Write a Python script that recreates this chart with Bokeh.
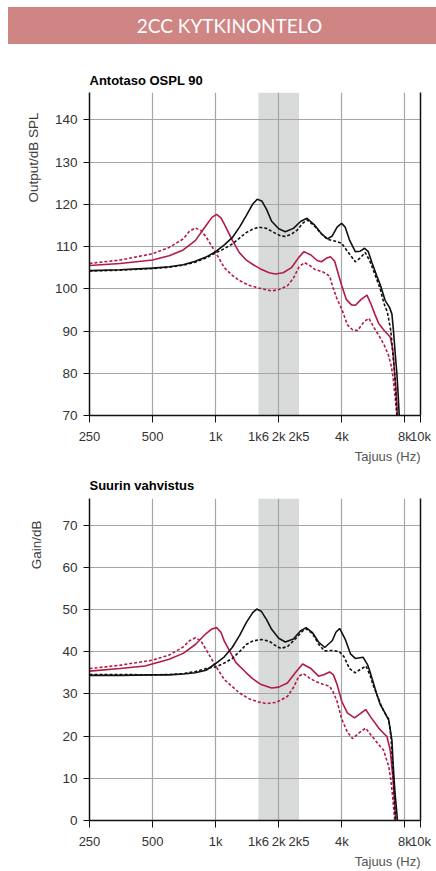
import math
from bokeh.plotting import figure
from bokeh.models import FixedTicker, LinearAxis, BoxAnnotation, Title, Div
from bokeh.layouts import column
from bokeh.embed import file_html
from bokeh.resources import INLINE

# ---------------- data ----------------
BANNER_TEXT = "2CC KYTKINONTELO"
TITLE_TOP = "Antotaso OSPL 90"
TITLE_BOTTOM = "Suurin vahvistus"
YLABEL_TOP = "Output/dB SPL"
YLABEL_BOTTOM = "Gain/dB"
XLABEL = "Tajuus (Hz)"

X_START, X_END = 250, 9500
X_LABEL_TICKS = [250, 500, 1000, 1600, 2000, 2500, 4000, 8000, 9500]
X_LABELS = ["250", "500", "1k", "1k6", "2k", "2k5", "4k", "8k", "10k"]
X_GRID_TICKS = [250, 500, 1000, 2000, 4000, 8000, 9500]
BAND = [1600, 2500]

Y_TICKS_TOP = [70, 80, 90, 100, 110, 120, 130, 140]
Y_TICKS_BOTTOM = [0, 10, 20, 30, 40, 50, 60, 70]

# Output (OSPL 90)
OSPL_BLACK_SOLID_F = [250, 350, 500, 600, 700, 800, 900, 1000, 1100, 1200, 1300, 1400, 1500, 1580, 1660, 1750,
                      1850, 2000, 2150, 2350, 2550, 2730, 2950, 3200, 3420, 3600, 3800, 3990, 4150, 4350, 4640,
                      4900, 5140, 5350, 5570, 5880, 6100, 6445, 6757, 6940, 7060, 7200, 7326, 7430, 7520]
OSPL_BLACK_SOLID = [104.3, 104.5, 104.9, 105.2, 105.7, 106.5, 107.5, 108.8, 110.4, 112.1, 114.6, 117.3, 120.0,
                    121.2, 120.8, 118.8, 116.0, 114.2, 113.5, 114.3, 116.0, 116.7, 115.2, 113.0, 111.8, 112.5,
                    114.6, 115.5, 114.6, 111.6, 108.8, 108.9, 109.6, 108.8, 106.2, 103.0, 101.0, 97.2, 95.6,
                    94.0, 90.0, 84.5, 80.0, 75.0, 70.0]
OSPL_BLACK_DASH_F = [250, 350, 500, 600, 700, 800, 900, 1000, 1100, 1200, 1300, 1400, 1500, 1610, 1750, 1900,
                     2050, 2150, 2300, 2450, 2600, 2730, 2950, 3200, 3420, 3700, 3990, 4240, 4640, 4900, 5170,
                     5440, 5700, 6100, 6360, 6600, 6860, 7000, 7150, 7250, 7330]
OSPL_BLACK_DASH = [104.2, 104.4, 104.8, 105.1, 105.6, 106.3, 107.3, 108.5, 109.5, 110.6, 112.0, 113.3, 114.1,
                   114.6, 114.3, 113.3, 112.5, 112.4, 112.9, 113.9, 115.5, 116.3, 115.0, 113.0, 111.7, 111.3,
                   110.8, 109.0, 106.4, 107.3, 108.6, 106.6, 104.0, 100.0, 96.5, 94.5, 90.0, 85.0, 80.0, 75.0,
                   70.0]
OSPL_RED_SOLID_F = [250, 350, 500, 600, 700, 800, 900, 960, 1010, 1060, 1100, 1200, 1300, 1400, 1500, 1650,
                    1800, 1930, 2100, 2300, 2500, 2640, 2850, 3050, 3200, 3400, 3530, 3700, 3850, 4000, 4200,
                    4450, 4650, 4950, 5275, 5500, 5750, 6000, 6330, 6810, 6950, 7030, 7150, 7280, 7376]
OSPL_RED_SOLID = [105.5, 106.0, 106.8, 107.8, 109.2, 111.4, 115.0, 116.9, 117.6, 116.8, 115.3, 111.5, 108.5,
                  106.8, 105.8, 104.6, 103.8, 103.5, 103.8, 105.0, 107.5, 108.8, 108.0, 106.7, 106.4, 107.3,
                  107.6, 106.5, 103.5, 100.7, 97.5, 96.2, 96.1, 97.5, 98.5, 96.5, 94.0, 91.8, 90.3, 88.6,
                  86.5, 85.0, 80.0, 75.0, 70.0]
OSPL_RED_DOT_F = [250, 350, 500, 600, 700, 750, 800, 850, 900, 1000, 1100, 1200, 1300, 1450, 1600, 1850, 2000,
                  2200, 2350, 2500, 2650, 2800, 3000, 3250, 3500, 3620, 3800, 4000, 4250, 4500, 4760, 5100, 5390,
                  5700, 6090, 6400, 6700, 6900, 7030, 7200, 7326]
OSPL_RED_DOT = [106.0, 106.8, 108.3, 109.8, 111.8, 113.6, 114.4, 113.8, 112.3, 108.6, 105.0, 103.2, 101.9,
                100.8, 100.2, 99.5, 99.8, 100.7, 102.5, 105.2, 106.2, 105.6, 104.5, 104.0, 103.0, 100.5, 97.5,
                95.2, 91.5, 90.3, 90.1, 92.2, 93.0, 90.8, 88.5, 86.5, 84.1, 81.5, 79.0, 74.0, 70.0]

# Gain
GAIN_BLACK_SOLID_F = [250, 350, 500, 600, 700, 800, 900, 1000, 1100, 1200, 1300, 1400, 1500, 1570, 1650, 1750,
                      1850, 2000, 2150, 2350, 2550, 2700, 2900, 3100, 3315, 3600, 3750, 3906, 4150, 4400, 4640,
                      5050, 5300, 5440, 5885, 6090, 6350, 6700, 6940, 7030, 7170, 7376]
GAIN_BLACK_SOLID = [34.4, 34.4, 34.5, 34.5, 34.7, 35.0, 35.6, 37.2, 38.8, 41.0, 43.8, 46.9, 49.2, 50.1, 49.6,
                    47.6, 45.3, 43.2, 42.3, 43.0, 45.0, 45.7, 44.5, 42.3, 41.0, 42.6, 44.6, 45.5, 43.0, 39.5,
                    38.4, 38.7, 37.0, 35.4, 29.8, 27.6, 26.0, 23.8, 19.0, 13.5, 7.0, 0.0]
GAIN_BLACK_DASH_F = [250, 350, 500, 600, 700, 800, 900, 1000, 1100, 1200, 1300, 1400, 1500, 1650, 1800, 1950,
                     2050, 2200, 2400, 2600, 2700, 2900, 3100, 3300, 3600, 3900, 4100, 4350, 4640, 4900, 5220,
                     5450, 5670, 6155, 6330, 6700, 6880, 7050, 7230]
GAIN_BLACK_DASH = [34.6, 34.6, 34.5, 34.6, 34.8, 35.3, 36.0, 36.4, 37.3, 38.4, 40.0, 41.7, 42.5, 42.9, 42.5,
                   41.3, 40.8, 41.2, 43.0, 44.9, 45.4, 44.3, 41.8, 40.2, 40.3, 40.0, 38.8, 36.0, 35.0, 35.8,
                   36.6, 34.5, 31.8, 27.4, 26.0, 24.0, 19.5, 10.0, 0.0]
GAIN_RED_SOLID_F = [250, 350, 460, 600, 700, 800, 900, 960, 1010, 1060, 1100, 1250, 1400, 1500, 1650, 1850, 2000,
                    2200, 2400, 2600, 2850, 3100, 3300, 3500, 3650, 3800, 4000, 4250, 4600, 4900, 5200, 5500,
                    6000, 6350, 6570, 6810, 7030, 7230]
GAIN_RED_SOLID = [35.4, 36.0, 36.6, 38.2, 39.6, 41.7, 44.3, 45.4, 45.7, 44.6, 42.5, 37.4, 35.0, 33.6, 32.2,
                  31.4, 31.6, 32.6, 35.0, 37.1, 36.0, 34.2, 34.6, 35.2, 34.5, 32.2, 28.2, 25.5, 24.3, 25.3,
                  26.3, 24.5, 21.9, 20.6, 19.9, 16.7, 9.6, 0.0]
GAIN_RED_DOT_F = [250, 350, 500, 600, 700, 750, 800, 850, 900, 1000, 1100, 1300, 1450, 1600, 1750, 1950, 2200,
                  2350, 2500, 2620, 2800, 3000, 3250, 3500, 3650, 3800, 4000, 4250, 4500, 4850, 5200, 5500, 6000,
                  6330, 6700, 6860, 7000, 7160]
GAIN_RED_DOT = [36.0, 36.8, 38.0, 39.2, 41.1, 42.6, 43.3, 42.6, 40.5, 36.6, 33.4, 30.2, 28.8, 28.1, 27.7, 28.0,
                29.4, 31.5, 34.2, 34.8, 33.8, 32.9, 32.3, 31.8, 30.3, 28.2, 24.0, 21.0, 19.4, 20.8, 21.9, 20.3,
                18.0, 16.7, 12.8, 9.6, 5.5, 0.0]

# ---------------- style ----------------
BANNER_COLOR = "#cf8584"
RED = "#b31b45"
BLACK = "#111111"
GRID = "#a6a6a6"
BAND_COLOR = "#d9dbda"
SANS = "Liberation Sans"
TICK_COLOR = "#333333"
FIG_W = 436


def make_chart(height, border_top, frame_h, y_range, y_ticks, title, title_standoff,
               ylabel, ylabel_offset, ylabel_standoff, series):
    p = figure(width=FIG_W, height=height, x_axis_type="log",
               x_range=(X_START, X_END), y_range=y_range,
               output_backend="svg", toolbar_location=None,
               min_border_left=89, min_border_right=16,
               min_border_top=border_top, min_border_bottom=height - border_top - frame_h)
    p.outline_line_color = None
    p.background_fill_color = "white"
    p.border_fill_color = "white"

    band = BoxAnnotation(left=BAND[0], right=BAND[1], fill_color=BAND_COLOR, fill_alpha=1.0,
                         line_color=None, level="image")
    p.add_layout(band)

    xa = p.xaxis[0]
    xa.ticker = FixedTicker(ticks=X_LABEL_TICKS, minor_ticks=X_GRID_TICKS)
    xa.major_label_overrides = {t: l for t, l in zip(X_LABEL_TICKS, X_LABELS)}
    xa.major_tick_out = 0
    xa.major_tick_in = 0
    xa.minor_tick_out = 7
    xa.minor_tick_in = 0
    xa.minor_tick_line_color = BLACK
    xa.axis_line_color = BLACK
    xa.axis_line_width = 1.5
    xa.major_label_standoff = 6
    xa.major_label_text_font = SANS
    xa.major_label_text_font_size = "13px"
    xa.major_label_text_color = TICK_COLOR

    ya = p.yaxis[0]
    ya.ticker = FixedTicker(ticks=y_ticks)
    ya.major_tick_out = 6
    ya.major_tick_in = 0
    ya.minor_tick_out = 0
    ya.minor_tick_in = 0
    ya.major_tick_line_color = BLACK
    ya.axis_line_color = BLACK
    ya.axis_line_width = 1.5
    ya.major_label_standoff = 6
    ya.major_label_text_font = SANS
    ya.major_label_text_font_size = "13.5px"
    ya.major_label_text_color = TICK_COLOR

    ra = LinearAxis(ticker=FixedTicker(ticks=[]), axis_line_color=BLACK, axis_line_width=1.5,
                    major_tick_out=0, major_tick_in=0, minor_tick_out=0, minor_tick_in=0,
                    major_label_standoff=0)
    p.add_layout(ra, "right")

    p.xgrid.ticker = FixedTicker(ticks=X_GRID_TICKS[1:-1])
    p.ygrid.ticker = FixedTicker(ticks=y_ticks[1:])
    for g in (p.xgrid[0], p.ygrid[0]):
        g.grid_line_color = GRID
        g.grid_line_width = 1.2

    for xs, ys, color, dash in series:
        p.line(x=xs, y=ys, line_color=color, line_width=1.6, line_dash=dash)

    p.add_layout(Title(text=title, align="left", text_font=SANS, text_font_style="bold",
                       text_font_size="13px", text_color="black", standoff=title_standoff), "above")
    p.add_layout(Title(text=ylabel, align="right", offset=ylabel_offset, standoff=ylabel_standoff,
                       text_font=SANS, text_font_style="normal", text_font_size="13.5px",
                       text_color="#3a3a3a"), "left")
    p.add_layout(Title(text=XLABEL, align="right", standoff=0, text_font=SANS,
                       text_font_style="normal", text_font_size="13px", text_color="#555555"), "below")
    return p


banner = Div(text=BANNER_TEXT, width=428, height=37, margin=(7, 0, 0, 8),
             styles={"background-color": BANNER_COLOR, "color": "white", "font-family": "Lato",
                     "font-size": "19px", "text-align": "center", "line-height": "37px",
                     "text-indent": "15px", "overflow": "hidden"})

p1 = make_chart(421, 48, 323, (70, 146.47), Y_TICKS_TOP, TITLE_TOP, 9, YLABEL_TOP, 20, 22, [
    (OSPL_RED_DOT_F, OSPL_RED_DOT, RED, "3 2"),
    (OSPL_RED_SOLID_F, OSPL_RED_SOLID, RED, "solid"),
    (OSPL_BLACK_DASH_F, OSPL_BLACK_DASH, BLACK, "3 2"),
    (OSPL_BLACK_SOLID_F, OSPL_BLACK_SOLID, BLACK, "solid"),
])

p2 = make_chart(405, 33, 322, (0, 76.3), Y_TICKS_BOTTOM, TITLE_BOTTOM, 12, YLABEL_BOTTOM, 22, 31, [
    (GAIN_RED_DOT_F, GAIN_RED_DOT, RED, "3 2"),
    (GAIN_RED_SOLID_F, GAIN_RED_SOLID, RED, "solid"),
    (GAIN_BLACK_DASH_F, GAIN_BLACK_DASH, BLACK, "3 2"),
    (GAIN_BLACK_SOLID_F, GAIN_BLACK_SOLID, BLACK, "solid"),
])

layout = column(banner, p1, p2)
open("out.html", "w").write(file_html(layout, INLINE))
